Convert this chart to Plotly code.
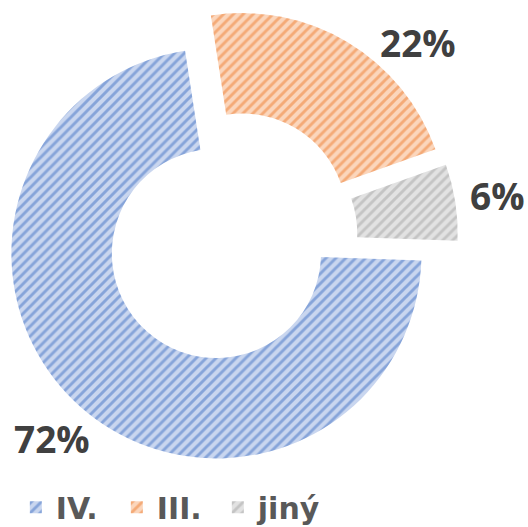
import math
import plotly.graph_objects as go

labels = ["IV.", "III.", "jiný"]
values = [72, 22, 6]
fg_colors = ["#4472C4", "#ED7D31", "#A5A5A5"]
bg_colors = ["#C9D6EF", "#FBD6BC", "#E2E2E2"]

W, H = 528, 527
# pie geometry in pixels (centre of the un-pulled pie, half size of its box)
cx, cy, half = 231, 237, 227
rotation = 92
pull = 0.107

fig = go.Figure(go.Pie(
    labels=labels,
    values=values,
    sort=False,
    direction="clockwise",
    rotation=rotation,
    hole=0.51,
    pull=pull,
    automargin=False,
    marker=dict(
        colors=bg_colors,
        line=dict(width=0),
        pattern=dict(shape="/", fgcolor=fg_colors, bgcolor=bg_colors,
                     size=7, solidity=0.42, fillmode="overlay"),
    ),
    textinfo="none",
    domain=dict(x=[(cx - half) / W, (cx + half) / W],
                y=[1 - (cy + half) / H, 1 - (cy - half) / H]),
    hoverinfo="label+percent",
))

# percentage labels placed on a circle around the pie at each slice's mid angle,
# slid along the circle to stay inside the chart area
label_r = 270
label_top = 42
total = sum(values)
cum = 0
for lab, v in zip(labels, values):
    mid = math.radians(rotation + (cum + v / 2) / total * 360)
    cum += v
    s, c = math.sin(mid), -math.cos(mid)
    y = cy + label_r * c
    if y < label_top:
        c = (label_top - cy) / label_r
        s = math.copysign(math.sqrt(1 - c * c), s)
    x = cx + label_r * s
    y = cy + label_r * c
    fig.add_annotation(
        x=x / W, y=1 - y / H, xref="paper", yref="paper",
        text=f"{round(v / total * 100)}%", showarrow=False,
        xanchor="center", yanchor="middle",
        font=dict(family="Open Sans", size=37, color="#404040", weight="bold"),
    )

fig.update_layout(
    width=W, height=H,
    margin=dict(l=0, r=0, t=0, b=0, autoexpand=False),
    paper_bgcolor="white",
    plot_bgcolor="white",
    showlegend=True,
    legend=dict(
        orientation="h",
        x=0.03, xanchor="left",
        y=-0.012, yanchor="bottom",
        font=dict(family="DejaVu Sans", size=30, color="#595959", weight="bold"),
        itemwidth=30,
        entrywidth=56,
        entrywidthmode="pixels",
        traceorder="normal",
    ),
)

fig.write_html("out.html", config={"displayModeBar": False},
               post_script="document.body.style.margin='0';")
